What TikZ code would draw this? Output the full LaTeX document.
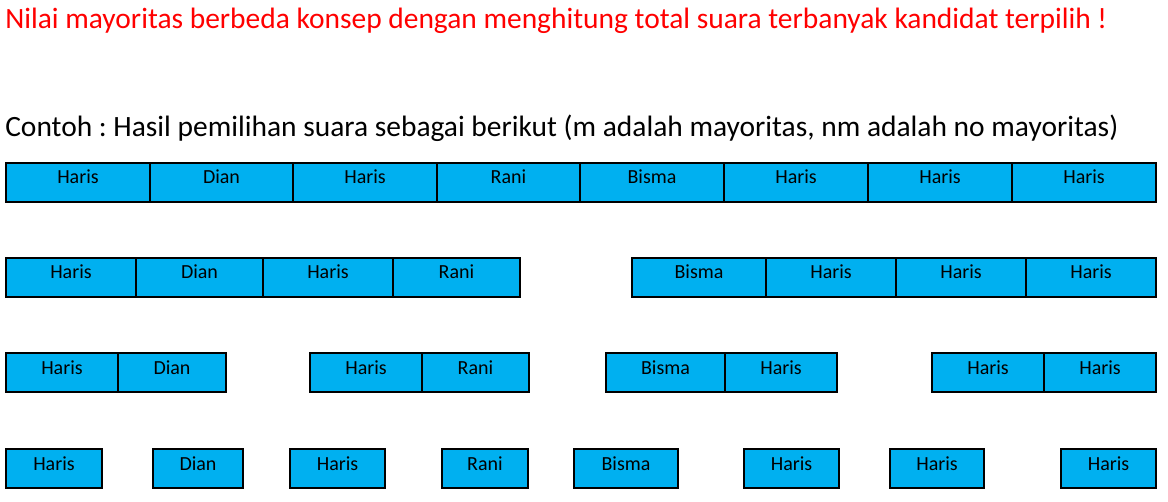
\documentclass[tikz,border=0pt]{standalone}
\usepackage{fontspec}
\setmainfont{Carlito}
\usepackage{xcolor}
\definecolor{votefill}{RGB}{0,176,240}
\definecolor{notered}{RGB}{255,0,0}
\usepackage{tikz}
\usetikzlibrary{positioning}
\frenchspacing
\tikzset{
  votebox/.style={draw=black, line width=1.5pt, fill=votefill,
    anchor=north west, inner xsep=0pt, inner ysep=0pt,
    text height=15.75pt, text depth=13.5pt,
    font=\fontsize{15}{18}\selectfont},
  notetext/.style={anchor=base west, inner sep=0pt},
}

\begin{document}
\begin{tikzpicture}[x=0.75pt, y=-0.75pt]
  \useasboundingbox (0,0) rectangle (1168,502);

  % Heading lines
  \node[notetext, notered, font=\fontsize{22.1}{26}\selectfont] (judul) at (5,29)
    {Nilai mayoritas berbeda konsep dengan menghitung total suara terbanyak kandidat terpilih !};
  \node[notetext, font=\fontsize{22.1}{26}\selectfont] (contoh) at (5,137)
    {Contoh : Hasil pemilihan suara sebagai berikut (m adalah mayoritas, nm adalah no mayoritas)};

  % Row 1: all votes
  \foreach \a/\b/\nama [count=\i] in {5/149/Haris, 149/292/Dian, 292/436/Haris, 436/579/Rani,
      579/723/Bisma, 723/867/Haris, 867/1011/Haris, 1011/1155/Haris} {
    \pgfmathsetmacro\w{(\b-\a)*0.75}
    \node[votebox, minimum width=\w pt] (ra-\i) at (\a,162) {\nama};
  }

  % Row 2: split in two
  \foreach \a/\b/\nama [count=\i] in {5/135/Haris, 135/262/Dian, 262/392/Haris, 392/519/Rani,
      631/765/Bisma, 765/895/Haris, 895/1025/Haris, 1025/1155/Haris} {
    \pgfmathsetmacro\w{(\b-\a)*0.75}
    \node[votebox, minimum width=\w pt] (rb-\i) at (\a,257) {\nama};
  }

  % Row 3: pairs
  \foreach \a/\b/\nama [count=\i] in {5/117/Haris, 117/225/Dian, 309/421/Haris, 421/528/Rani,
      605/724/Bisma, 724/836/Haris, 931/1043/Haris, 1043/1155/Haris} {
    \pgfmathsetmacro\w{(\b-\a)*0.75}
    \node[votebox, minimum width=\w pt] (rc-\i) at (\a,352) {\nama};
  }

  % Row 4: single votes
  \foreach \a/\b/\nama [count=\i] in {5/101/Haris, 152/242/Dian, 289/384/Haris, 441/527/Rani,
      573/677/Bisma, 743/838/Haris, 889/983/Haris, 1060/1155/Haris} {
    \pgfmathsetmacro\w{(\b-\a)*0.75}
    \node[votebox, minimum width=\w pt] (rd-\i) at (\a,448) {\nama};
  }
\end{tikzpicture}
\end{document}
